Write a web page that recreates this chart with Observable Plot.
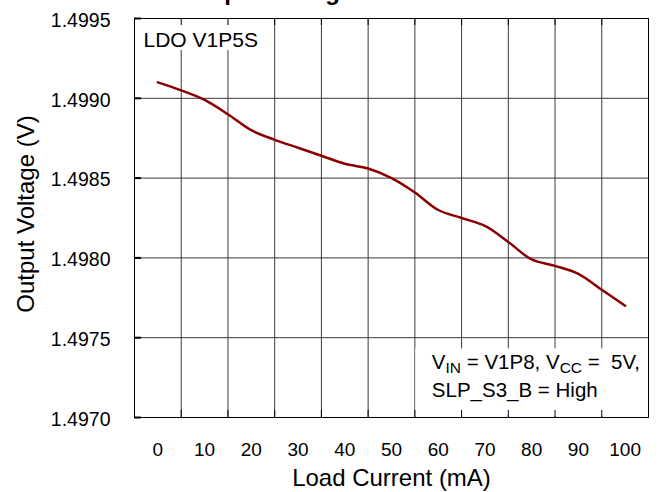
<!DOCTYPE html>
<html>
<head>
<meta charset="utf-8">
<script src="https://cdn.jsdelivr.net/npm/d3@7"></script>
<script src="https://cdn.jsdelivr.net/npm/@observablehq/plot@0.6"></script>
<style>
  html, body { margin: 0; padding: 0; background: #fff; overflow: hidden; }
  #wrap { position: relative; width: 661px; height: 492px; font-family: "Liberation Sans", Arial, sans-serif; }
  #title { position: absolute; left: 183px; top: -20px; text-align: left; font-weight: bold;
           font-size: 24px; line-height: 24px; white-space: nowrap; color: #000; }
  #chart svg { display: block; }
</style>
</head>
<body>
<div id="wrap">
  <div id="chart"></div>
  <div id="title">Output Voltage vs Load Current</div>
</div>
<script>
// ---- data ----
const loadCurrent = [0, 5, 10, 15, 20, 25, 30, 35, 40, 45, 50, 55, 60, 65, 70, 75, 80, 85, 90, 95, 100];
const outputVoltage = [1.49910, 1.49905, 1.49899, 1.49890, 1.49880, 1.49874, 1.49869, 1.49864, 1.49859, 1.49856,
                       1.49850, 1.49841, 1.49830, 1.49825, 1.49820, 1.49810, 1.49799, 1.49795, 1.49790, 1.49780, 1.49770];
const xTicks = [0, 10, 20, 30, 40, 50, 60, 70, 80, 90, 100];
const xGrid = [-5, 5, 15, 25, 35, 45, 55, 65, 75, 85, 95, 105];
const yTicks = [1.4970, 1.4975, 1.4980, 1.4985, 1.4990, 1.4995];
const xDomain = [-5, 105];
const yDomain = [1.4970, 1.4995];
const labelBox = [{x1: -5, x2: 25, y1: 1.4993, y2: 1.4995}];
const condBox = [{x1: 55, x2: 105, y1: 1.4970, y2: 1.49743}];
const deviceLabel = ["LDO V1P5S"];
const condLine1 = ["VIN = V1P8, VCC =  5V,"];
const condLine2 = ["SLP_S3_B = High"];
const xTitle = ["Load Current (mA)"];
const yTitle = ["Output Voltage (V)"];

const data = loadCurrent.map((x, i) => ({current: x, voltage: outputVoltage[i]}));
const gridColor = "#3a3a3a";

const chart = Plot.plot({
  width: 661,
  height: 492,
  marginLeft: 134,
  marginRight: 13,
  marginTop: 18,
  marginBottom: 75,
  style: {fontFamily: "'Liberation Sans', Arial, sans-serif", background: "white", color: "black", overflow: "visible"},
  x: {domain: xDomain, axis: null},
  y: {domain: yDomain, axis: null},
  marks: [
    Plot.ruleX(xGrid, {stroke: gridColor, strokeWidth: 1}),
    Plot.ruleY(yTicks, {stroke: gridColor, strokeWidth: 1}),
    Plot.rect(labelBox, {x1: "x1", x2: "x2", y1: "y1", y2: "y2", fill: "white", insetRight: 1, insetTop: 1, insetLeft: 1}),
    Plot.rect(condBox, {x1: "x1", x2: "x2", y1: "y1", y2: "y2", fill: "white", insetLeft: 1, insetBottom: 1, insetRight: 1}),
    // inward tick marks
    Plot.ruleX(xGrid, {y1: yDomain[1], y2: yDomain[1], insetBottom: -7, stroke: "#000"}),
    Plot.ruleX(xGrid, {y1: yDomain[0], y2: yDomain[0], insetTop: -7, stroke: "#000"}),
    Plot.ruleY(yTicks, {x1: xDomain[0], x2: xDomain[0], insetRight: -7, stroke: "#000", strokeWidth: 2}),
    Plot.frame({stroke: "#000", strokeWidth: 1}),
    Plot.axisX(xTicks, {tickSize: 0, tickPadding: 25, fontSize: 19, label: null, fill: "#000"}),
    Plot.axisY(yTicks, {tickSize: 0, tickPadding: 24, fontSize: 19.5, dy: 2, label: null, tickFormat: d3.format(".4f"), fill: "#000"}),
    Plot.line(data, {x: "current", y: "voltage", stroke: "#8b0000", strokeWidth: 2.5, curve: "catmull-rom"}),
    Plot.text(deviceLabel, {frameAnchor: "top-left", textAnchor: "start", lineAnchor: "top", dx: 9, dy: 14, fontSize: 21, fill: "#000"}),
    Plot.text(condLine1, {x: condBox[0].x1, frameAnchor: "bottom", textAnchor: "start", lineAnchor: "bottom", dx: 17, dy: -49, fontSize: 20.5, fill: "#000"}),
    Plot.text(condLine2, {x: condBox[0].x1, frameAnchor: "bottom", textAnchor: "start", lineAnchor: "bottom", dx: 17, dy: -21, fontSize: 20.5, fill: "#000"}),
    Plot.text(xTitle, {frameAnchor: "bottom", textAnchor: "middle", lineAnchor: "bottom", dy: 68, fontSize: 24, fill: "#000"}),
    Plot.text(yTitle, {frameAnchor: "left", textAnchor: "middle", lineAnchor: "bottom", rotate: -90, dx: -101, dy: -4, fontSize: 24, fill: "#000"})
  ]
});

// subscripts in the conditions line
const t = d3.select(chart).selectAll("text").filter(function () { return this.textContent === condLine1[0]; });
t.text(null).style("white-space", "pre");
const parts = [["V", false], ["IN", true], [" = V1P8, V", false], ["CC", true], [" =  5V,", false]];
let shift = 0;
for (const [s, sub] of parts) {
  const target = sub ? 4 : 0;
  const ts = t.append("tspan").attr("dy", target - shift).text(s);
  if (sub) ts.attr("font-size", 15.5);
  shift = target;
}

document.getElementById("chart").appendChild(chart);
</script>
</body>
</html>
